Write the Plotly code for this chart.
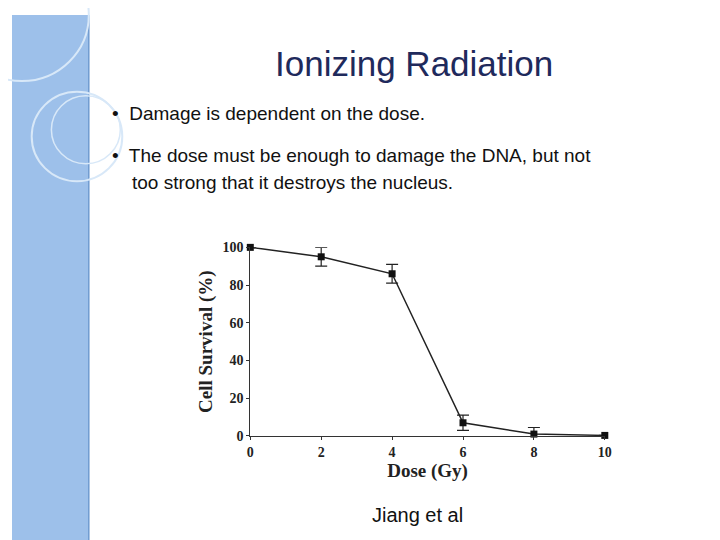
import plotly.graph_objects as go

dose = [0, 2, 4, 6, 8, 10]
survival = [100, 95, 86, 7, 1, 0.3]
err = [0, 5, 5, 4, 3.5, 0]
xticks = [0, 2, 4, 6, 8, 10]
yticks = [0, 20, 40, 60, 80, 100]

W, H = 720, 540
fig = go.Figure()
fig.add_trace(go.Scatter(
    x=dose, y=survival, mode="lines+markers",
    line=dict(color="#222", width=1.5),
    marker=dict(symbol="square", size=7, color="#111"),
    error_y=dict(type="data", array=err, visible=True, color="#222", thickness=1.2, width=6),
    cliponaxis=False, showlegend=False))

serif = "Liberation Serif, DejaVu Serif, serif"
fig.update_layout(
    width=W, height=H, margin=dict(l=0, r=0, t=0, b=0),
    paper_bgcolor="white", plot_bgcolor="white",
    xaxis=dict(domain=[242/W, 602/W], range=[0, 10], tickvals=xticks, showgrid=False,
               zeroline=False, showline=True, linecolor="#333", linewidth=1,
               ticks="outside", ticklen=3, tickcolor="#333",
               tickfont=dict(family=serif, size=14, color="#222", weight="bold"),
               title=dict(text="Dose (Gy)", font=dict(family=serif, size=19, color="#222", weight="bold"), standoff=0)),
    yaxis=dict(domain=[107/H, 301/H], range=[0, 100], tickvals=yticks, showgrid=False,
               zeroline=False, showline=True, linecolor="#333", linewidth=1,
               ticks="outside", ticklen=3, tickcolor="#333",
               tickfont=dict(family=serif, size=14, color="#222", weight="bold"),
               title=dict(text="Cell Survival (%)", font=dict(family=serif, size=19, color="#222", weight="bold"), standoff=4)),
)

shapes = [
    dict(type="rect", xref="paper", yref="paper", x0=0, x1=78/W, y0=0, y1=1,
         fillcolor="#9DC0EA", line=dict(width=0), layer="below"),
    dict(type="line", xref="paper", yref="paper", x0=78/W, x1=78/W, y0=0, y1=1,
         line=dict(color="#6F9BD0", width=1.5)),
    dict(type="circle", xref="paper", yref="paper", x0=(66-46)/W, x1=(66+46)/W,
         y0=1-(125+46)/H, y1=1-(125-46)/H, line=dict(color="#D8E8F8", width=2)),
    dict(type="circle", xref="paper", yref="paper", x0=(75-35)/W, x1=(75+35)/W,
         y0=1-(118+35)/H, y1=1-(118-35)/H, line=dict(color="#D8E8F8", width=1.5)),
    dict(type="circle", xref="paper", yref="paper", x0=(10-68)/W, x1=(10+68)/W,
         y0=1-(0+68)/H, y1=1-(0-68)/H, line=dict(color="#D8E8F8", width=2)),
]
fig.update_layout(shapes=shapes)

sans = "Liberation Sans, Arial, sans-serif"
ann = [
    dict(x=408/W, y=1-50/H, text="Ionizing Radiation", font=dict(family=sans, size=35, color="#1F2A5C")),
    dict(x=100/W, y=1-101/H, xanchor="left", text="•  Damage is dependent on the dose.", font=dict(family=sans, size=19, color="#111")),
    dict(x=100/W, y=1-145/H, xanchor="left", text="•  The dose must be enough to damage the DNA, but not", font=dict(family=sans, size=19, color="#111")),
    dict(x=120/W, y=1-172/H, xanchor="left", text="too strong that it destroys the nucleus.", font=dict(family=sans, size=19, color="#111")),
    dict(x=412/W, y=1-514/H, text="Jiang et al", font=dict(family=sans, size=20, color="#111")),
]
for a in ann:
    a.update(xref="paper", yref="paper", showarrow=False, yanchor="middle")
    if "xanchor" not in a:
        a["xanchor"] = "center"
fig.update_layout(annotations=ann)
fig.write_html("out.html")
